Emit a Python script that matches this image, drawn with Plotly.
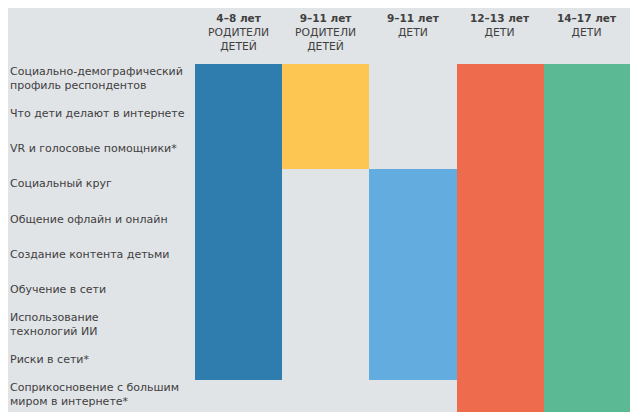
import plotly.graph_objects as go

rows = [
    "Социально-демографический<br>профиль респондентов",
    "Что дети делают в интернете",
    "VR и голосовые помощники*",
    "Социальный круг",
    "Общение офлайн и онлайн",
    "Создание контента детьми",
    "Обучение в сети",
    "Использование<br>технологий ИИ",
    "Риски в сети*",
    "Соприкосновение с большим<br>миром в интернете*",
]
col_keys = ["c1", "c2", "c3", "c4", "c5"]
col_age = ["4–8 лет", "9–11 лет", "9–11 лет", "12–13 лет", "14–17 лет"]
col_group = ["РОДИТЕЛИ<br>ДЕТЕЙ", "РОДИТЕЛИ<br>ДЕТЕЙ", "ДЕТИ", "ДЕТИ", "ДЕТИ"]
colors = ["#2E7DAE", "#FDC652", "#62ACDF", "#EE6B4D", "#5BBA93"]

# 1 = block covers the topic, 0 = not covered
parents_4_8 = [1, 1, 1, 1, 1, 1, 1, 1, 1, 0]
parents_9_11 = [1, 1, 1, 0, 0, 0, 0, 0, 0, 0]
kids_9_11 = [0, 0, 0, 1, 1, 1, 1, 1, 1, 0]
kids_12_13 = [1, 1, 1, 1, 1, 1, 1, 1, 1, 1]
kids_14_17 = [1, 1, 1, 1, 1, 1, 1, 1, 1, 1]
presence = [parents_4_8, parents_9_11, kids_9_11, kids_12_13, kids_14_17]

z = []
for r in range(len(rows)):
    z.append([ci if presence[ci][r] else None for ci in range(len(col_keys))])

n = len(colors)
colorscale = []
for i, c in enumerate(colors):
    colorscale.append([i / n, c])
    colorscale.append([(i + 1) / n, c])

# page body has an 8px margin: figure origin sits at (8, 8) of the window
OFF = 8
W, H = 638 - OFF, 412 - OFF
ML, MR, MT, MB = 195 - OFF, 7, 64 - OFF, 0
bg = "#E1E4E7"

fig = go.Figure(
    go.Heatmap(
        z=z,
        x=col_keys,
        y=list(range(len(rows))),
        zmin=-0.5,
        zmax=n - 0.5,
        colorscale=colorscale,
        showscale=False,
        hoverinfo="skip",
    )
)

plot_w = W - ML - MR
plot_h = H - MT - MB
annotations = []
for i, lab in enumerate(rows):
    annotations.append(dict(
        x=(8 - OFF - ML) / plot_w, xref="paper", xanchor="left",
        y=i, yref="y", yanchor="middle", yshift=3,
        text=lab, showarrow=False, align="left",
        font=dict(size=11, color="#404040", family="DejaVu Sans"),
    ))

header_top_paper = 1 + (MT - (10 - OFF)) / plot_h
for ci, key in enumerate(col_keys):
    annotations.append(dict(
        x=key, xref="x", xanchor="center",
        y=header_top_paper, yref="paper", yanchor="top",
        text=f"<b style='font-size:10.5px'>{col_age[ci]}</b><br>{col_group[ci]}",
        showarrow=False, align="center",
        font=dict(size=10.8, color="#404040", family="DejaVu Sans"),
    ))

fig.update_layout(
    width=W, height=H,
    margin=dict(l=ML, r=MR, t=MT, b=MB),
    paper_bgcolor=bg, plot_bgcolor=bg,
    annotations=annotations,
    xaxis=dict(visible=False, range=[-0.5, 4.5]),
    yaxis=dict(visible=False, range=[9.41, -0.5]),
    showlegend=False,
)

fig.write_html("out.html")
